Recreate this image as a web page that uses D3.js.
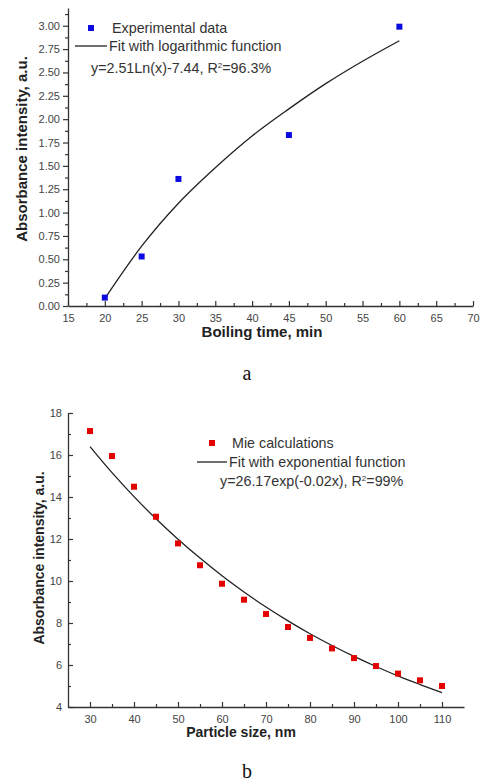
<!DOCTYPE html>
<html>
<head>
<meta charset="utf-8">
<script src="https://cdn.jsdelivr.net/npm/d3@7.9.0/dist/d3.min.js"></script>
<style>
  body { margin: 0; background: #fff; }
  svg { display: block; font-family: Arial, "Liberation Sans", sans-serif; }
</style>
</head>
<body>
<svg id="chart" width="482" height="784"></svg>
<script>
// ---- panel a: boiling time ----
const boilTime = [20, 25, 30, 45, 60];
const boilAbs = [0.09, 0.53, 1.36, 1.83, 2.99];
const logFitX = [20, 25, 30, 35, 40, 45, 50, 55, 60];
const logFitY = [0.08, 0.64, 1.10, 1.48, 1.82, 2.11, 2.38, 2.62, 2.84];
const boilTicks = [15, 20, 25, 30, 35, 40, 45, 50, 55, 60, 65, 70];
const boilMinor = [17.5, 22.5, 27.5, 32.5, 37.5, 42.5, 47.5, 52.5, 57.5, 62.5, 67.5];
const absTicksA = [0, 0.25, 0.5, 0.75, 1, 1.25, 1.5, 1.75, 2, 2.25, 2.5, 2.75, 3];
const absMinorA = [0.125, 0.375, 0.625, 0.875, 1.125, 1.375, 1.625, 1.875, 2.125, 2.375, 2.625, 2.875, 3.125];

// ---- panel b: particle size ----
const particleSize = [30, 35, 40, 45, 50, 55, 60, 65, 70, 75, 80, 85, 90, 95, 100, 105, 110];
const mieAbs = [17.14, 15.95, 14.49, 13.06, 11.79, 10.75, 9.87, 9.11, 8.43, 7.81, 7.29, 6.79, 6.33, 5.95, 5.59, 5.27, 5.00];
const expFitY = [16.40, 15.16, 14.02, 12.96, 11.99, 11.09, 10.25, 9.48, 8.76, 8.10, 7.49, 6.93, 6.41, 5.93, 5.48, 5.07, 4.68];
const sizeTicks = [30, 40, 50, 60, 70, 80, 90, 100, 110];
const sizeMinor = [35, 45, 55, 65, 75, 85, 95, 105];
const absTicksB = [4, 6, 8, 10, 12, 14, 16, 18];
const absMinorB = [5, 7, 9, 11, 13, 15, 17];

const svg = d3.select('#chart');
const AXIS = '#333', TICKTXT = '#444', LABEL = '#222';

function styleAxis(g) {
  g.select('.domain').attr('stroke', AXIS).attr('stroke-width', 1.3);
  g.selectAll('.tick line').attr('stroke', AXIS).attr('stroke-width', 1.2);
  g.selectAll('.tick text').attr('fill', TICKTXT).attr('font-size', 11);
}

function drawPanel(p) {
  const x = d3.scaleLinear().domain(p.xDomain).range(p.xRange);
  const y = d3.scaleLinear().domain(p.yDomain).range(p.yRange);
  const g = svg.append('g');

  // x axis (ticks point into the plot)
  g.append('g').attr('transform', `translate(0,${p.yRange[0]})`)
    .call(d3.axisBottom(x).tickValues(p.xTicks).tickSize(-5).tickSizeOuter(0).tickPadding(8))
    .call(styleAxis);
  g.append('g').attr('transform', `translate(0,${p.yRange[0]})`)
    .call(d3.axisBottom(x).tickValues(p.xMinor).tickSize(-3).tickFormat(''))
    .call(styleAxis).call(a => a.select('.domain').remove());

  // y axis
  g.append('g').attr('transform', `translate(${p.xRange[0]},0)`)
    .call(d3.axisLeft(y).tickValues(p.yTicks).tickSize(p.yTickIn ? -5 : 5).tickSizeOuter(0)
      .tickPadding(p.yTickIn ? 6 : 3).tickFormat(p.yFmt))
    .call(styleAxis);
  g.append('g').attr('transform', `translate(${p.xRange[0]},0)`)
    .call(d3.axisLeft(y).tickValues(p.yMinor).tickSize(p.yTickIn ? -3 : 3).tickFormat(''))
    .call(styleAxis).call(a => a.select('.domain').remove());

  // fit curve
  const line = d3.line().x(d => x(d[0])).y(d => y(d[1])).curve(d3.curveMonotoneX);
  g.append('path').datum(d3.zip(p.fitX, p.fitY))
    .attr('d', line).attr('fill', 'none').attr('stroke', '#222').attr('stroke-width', 1.3);

  // data markers
  g.selectAll('rect.pt').data(d3.zip(p.ptX, p.ptY)).join('rect')
    .attr('class', 'pt')
    .attr('x', d => x(d[0]) - 3).attr('y', d => y(d[1]) - 3)
    .attr('width', 6).attr('height', 6).attr('fill', p.color);

  // axis titles
  g.append('text').attr('x', p.xLabelPos[0]).attr('y', p.xLabelPos[1])
    .attr('text-anchor', 'middle').attr('font-weight', 'bold').attr('font-size', p.labelSize)
    .attr('fill', LABEL).text(p.xLabel);
  g.append('text').attr('transform', `translate(${p.yLabelPos[0]},${p.yLabelPos[1]}) rotate(-90)`)
    .attr('text-anchor', 'middle').attr('font-weight', 'bold').attr('font-size', p.labelSize)
    .attr('fill', LABEL).text('Absorbance intensity, a.u.');

  // legend
  const L = p.legend, fs = 14.3;
  g.append('rect').attr('x', L.sq[0] - 3).attr('y', L.sq[1] - 3).attr('width', 6).attr('height', 6).attr('fill', p.color);
  g.append('text').attr('x', L.t1[0]).attr('y', L.t1[1]).attr('font-size', fs).attr('fill', '#333').text(L.name);
  g.append('line').attr('x1', L.ln[0]).attr('x2', L.ln[1]).attr('y1', L.ln[2]).attr('y2', L.ln[2])
    .attr('stroke', '#222').attr('stroke-width', 1.3);
  g.append('text').attr('x', L.t2[0]).attr('y', L.t2[1]).attr('font-size', fs).attr('fill', '#333').text(L.fitName);
  const eq = g.append('text').attr('x', L.t3[0]).attr('y', L.t3[1]).attr('font-size', fs).attr('fill', '#333');
  eq.append('tspan').text(L.eq + ', R');
  eq.append('tspan').attr('dy', -5).attr('font-size', 8).text('2');
  eq.append('tspan').attr('dy', 5).text('=' + L.r2);

  // panel letter
  g.append('text').attr('x', p.letterPos[0]).attr('y', p.letterPos[1]).attr('text-anchor', 'middle')
    .attr('font-family', '"Liberation Serif", "Times New Roman", serif').attr('font-size', 20)
    .attr('fill', '#111').text(p.letter);
}

drawPanel({
  xDomain: [15, 70], xRange: [68, 473], yDomain: [0, 3.19], yRange: [306, 8],
  xTicks: boilTicks, xMinor: boilMinor, yTicks: absTicksA, yMinor: absMinorA,
  yFmt: d3.format('.2f'), yTickIn: false,
  fitX: logFitX, fitY: logFitY, ptX: boilTime, ptY: boilAbs, color: '#0b0be0',
  xLabel: 'Boiling time, min', xLabelPos: [262, 337], yLabelPos: [27, 149], labelSize: 15,
  legend: { sq: [91, 28], t1: [112, 33], ln: [75, 107, 46], t2: [109, 51], t3: [91, 73],
    name: 'Experimental data', fitName: 'Fit with logarithmic function',
    eq: 'y=2.51Ln(x)-7.44', r2: '96.3%' },
  letter: 'a', letterPos: [247, 380]
});

drawPanel({
  xDomain: [25, 115], xRange: [68, 464], yDomain: [4, 18], yRange: [707, 413],
  xTicks: sizeTicks, xMinor: sizeMinor, yTicks: absTicksB, yMinor: absMinorB,
  yFmt: d3.format('d'), yTickIn: true,
  fitX: particleSize, fitY: expFitY, ptX: particleSize, ptY: mieAbs, color: '#e50000',
  xLabel: 'Particle size, nm', xLabelPos: [241, 737], yLabelPos: [44, 558], labelSize: 14,
  legend: { sq: [212, 443], t1: [232, 448], ln: [197, 227, 462], t2: [229, 467], t3: [220, 486],
    name: 'Mie calculations', fitName: 'Fit with exponential function',
    eq: 'y=26.17exp(-0.02x)', r2: '99%' },
  letter: 'b', letterPos: [247, 778]
});
</script>
</body>
</html>
